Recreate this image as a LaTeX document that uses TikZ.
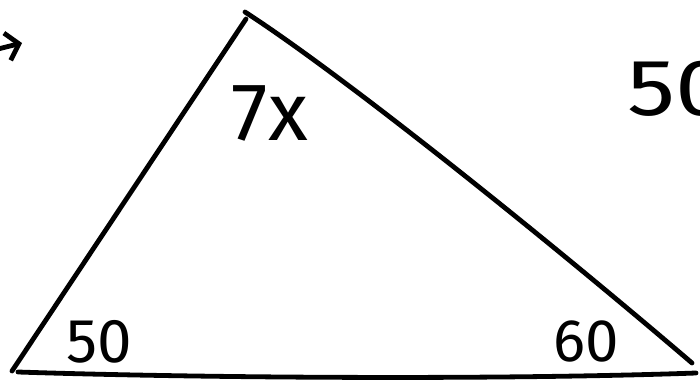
\documentclass[tikz,border=0pt]{standalone}
\usepackage{fontspec}
\setmainfont{Fira Sans}
\usetikzlibrary{arrows.meta, positioning}

\begin{document}
\begin{tikzpicture}[
    x=1pt, y=-1pt,
    stroke/.style={line width=4.8pt, line cap=round, black},
    angle/.style={inner sep=0pt, font=\fontsize{62}{70}\selectfont},
    note/.style={inner sep=0pt, anchor=base west, xscale=1.2, font=\fontsize{80}{88}\selectfont},
]
    \useasboundingbox (0,0) rectangle (700,383);
    \clip (0,0) rectangle (700,383);

    % corners of the triangle
    \coordinate (bl) at (12,371);
    \coordinate (tp) at (246,19);
    \coordinate (tq) at (245,12);
    \coordinate (br) at (692,363);
    \coordinate (bs) at (18,372);
    \coordinate (bt) at (696,373);

    % sides
    \draw[stroke] (bl) -- (tp);
    \draw[stroke] (tq) .. controls (350,80) and (560,250) .. (br);
    \draw[stroke] (bs) .. controls (200,378) and (500,380) .. (bt);

    % angles
    \node[angle, font=\fontsize{82}{90}\selectfont] (top) at (270,113) {7x};
    \node[angle] (left) at (99,342) {50};
    \node[angle, font=\fontsize{60}{68}\selectfont] (right) at (586,341) {60};

    % cut-off bits at the edges
    \node[note] (side) at (627,115) {50};
    \coordinate (from) at (-30,56);
    \coordinate (to) at (22,43);
    \draw[stroke, -{Straight Barb[length=12pt, width=28pt, line width=4.8pt]}] (from) -- (to);
\end{tikzpicture}
\end{document}
